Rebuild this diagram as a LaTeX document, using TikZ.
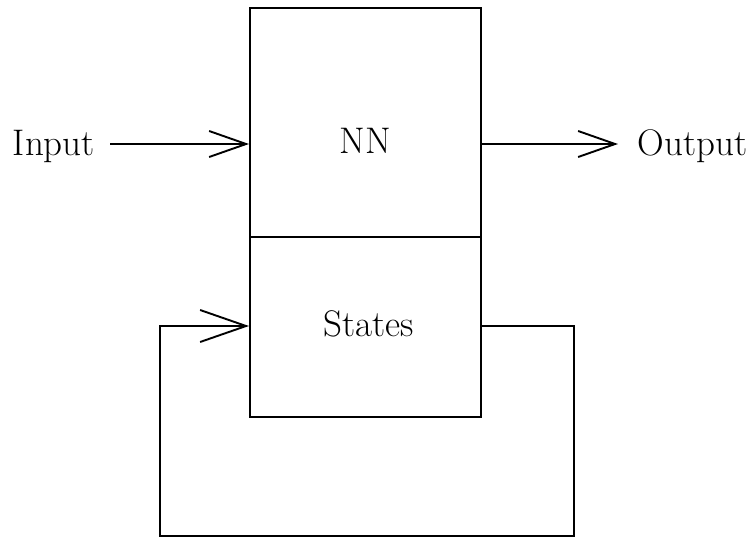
\documentclass[tikz,border=0pt]{standalone}
\usepackage{fontspec}
\usetikzlibrary{arrows.meta}
\begin{document}
\begin{tikzpicture}[x=1pt,y=-1pt,
  line width=1.9pt,
  every node/.style={font=\fontsize{37}{42}\selectfont, inner sep=0pt},
  block/.style={draw, anchor=north west, minimum width=231pt},
  barb/.style={-{Straight Barb[length=37pt,width=26pt,line width=1.9pt]}},
  bigbarb/.style={-{Straight Barb[length=46pt,width=32pt,line width=1.9pt]}}]
  \useasboundingbox (0,0) rectangle (751,555);
  % network block split into two cells
  \node[block, minimum height=229pt] (nn) at (249,7) {};
  \node[block, minimum height=180pt] (st) at (249,236) {};
  \node[anchor=base] (nnt) at (365,153) {NN};
  \node[anchor=base] (stt) at (369,336) {States};
  % external signals
  \node[anchor=base west] (in) at (12,155) {Input};
  \node[anchor=base west] (out) at (637,155) {Output};
  \coordinate (inA) at (110,144);
  \coordinate (outB) at (618,144);
  \draw[barb] (inA) -- (inA -| nn.west);
  \draw[barb] (outB -| nn.east) -- (outB);
  % recurrent loop from the state cell back to its input
  \coordinate (fb) at (0,326);
  \coordinate (fr) at (574,536);
  \coordinate (fl) at (160,536);
  \draw[bigbarb] (fb -| st.east) -| (fr) -- (fl) |- (fb -| st.west);
\end{tikzpicture}
\end{document}
